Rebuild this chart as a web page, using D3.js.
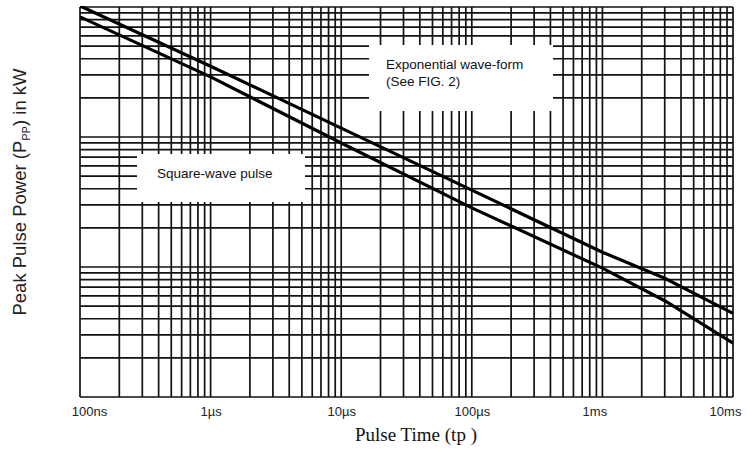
<!DOCTYPE html>
<html><head><meta charset="utf-8">
<script src="https://cdn.jsdelivr.net/npm/d3@7"></script>
<style>html,body{margin:0;padding:0;background:#fff;}svg{display:block;}</style>
</head><body>
<svg id="c" width="748" height="464"></svg>
<script>
const xTickValues = [1e-7, 1e-6, 1e-5, 1e-4, 1e-3, 1e-2];
const xTickLabels = ["100ns", "1\u00b5s", "10\u00b5s", "100\u00b5s", "1ms", "10ms"];
const pulseTime = [1e-7, 1e-6, 1e-5, 1e-4, 1e-3, 3e-3, 1e-2];
const expPower = [102, 35, 11.7, 3.9, 1.3, 0.82, 0.44];
const squarePower = [84, 29, 9.0, 2.85, 0.98, 0.55, 0.26];
const yDomain = [0.1, 100];

const svg = d3.select("#c");
const L = 80, R = 733, T = 7, B = 397;
const x = d3.scaleLog().domain([1e-7, 1e-2]).range([L, R]);
const y = d3.scaleLog().domain(yDomain).range([B, T]);

svg.append("rect").attr("width", 748).attr("height", 464).attr("fill", "#fff");

const xGrid = [], yGrid = [];
for (let e = -7; e < -2; e++) for (let k = 1; k <= 9; k++) xGrid.push(k * Math.pow(10, e));
xGrid.push(1e-2);
for (let e = -1; e < 2; e++) for (let k = 1; k <= 9; k++) yGrid.push(k * Math.pow(10, e));
yGrid.push(100);

const g = svg.append("g");
g.selectAll(".v").data(xGrid).enter().append("line")
  .attr("x1", d => x(d)).attr("x2", d => x(d)).attr("y1", T).attr("y2", B)
  .attr("stroke", "#111").attr("stroke-width", 1.7);
g.selectAll(".h").data(yGrid).enter().append("line")
  .attr("y1", d => y(d)).attr("y2", d => y(d)).attr("x1", L).attr("x2", R)
  .attr("stroke", "#111").attr("stroke-width", 1.7);

svg.append("clipPath").attr("id", "clip").append("rect")
  .attr("x", L).attr("y", T - 1).attr("width", R - L + 2).attr("height", B - T + 1);
const line = d3.line().x(d => x(d[0])).y(d => y(d[1]));
[expPower, squarePower].forEach(s => {
  svg.append("path").datum(pulseTime.map((t, i) => [t, s[i]]))
    .attr("d", line).attr("fill", "none").attr("stroke", "#000")
    .attr("stroke-width", 3.2).attr("clip-path", "url(#clip)");
});

svg.append("rect").attr("x", 369).attr("y", 45).attr("width", 184).attr("height", 66).attr("fill", "#fff");
svg.append("text").attr("x", 386).attr("y", 69).attr("font-family", "Liberation Sans, Arial, sans-serif")
  .attr("font-size", 13.5).attr("fill", "#111").text("Exponential wave-form");
svg.append("text").attr("x", 386).attr("y", 86).attr("font-family", "Liberation Sans, Arial, sans-serif")
  .attr("font-size", 13.5).attr("fill", "#111").text("(See FIG. 2)");
svg.append("rect").attr("x", 137).attr("y", 154).attr("width", 168).attr("height", 48).attr("fill", "#fff");
svg.append("text").attr("x", 157).attr("y", 178).attr("font-family", "Liberation Sans, Arial, sans-serif")
  .attr("font-size", 13.5).attr("fill", "#111").text("Square-wave pulse");

const xAxis = d3.axisBottom(x).tickValues(xTickValues).tickFormat((d, i) => xTickLabels[i]).tickSize(0).tickPadding(10);
const ax = svg.append("g").attr("transform", `translate(0,${B})`).call(xAxis);
ax.select(".domain").remove();
ax.selectAll("text").attr("font-family", "Liberation Sans, Arial, sans-serif").attr("font-size", 13).attr("fill", "#222")
  .attr("dx", (d, i) => i === 0 ? 9 : (i === 5 ? -8 : (i === 4 ? -8 : 0)));

svg.append("text").attr("x", 416).attr("y", 441).attr("text-anchor", "middle")
  .attr("font-family", "Liberation Serif, Times New Roman, serif").attr("font-size", 19).attr("fill", "#111")
  .text("Pulse Time (tp )");

const yl = svg.append("text").attr("transform", "translate(26,192) rotate(-90)").attr("text-anchor", "middle")
  .attr("font-family", "Liberation Sans, Arial, sans-serif").attr("font-size", 18.5).attr("fill", "#222");
yl.append("tspan").text("Peak Pulse Power (P");
yl.append("tspan").attr("font-size", 11).attr("dy", 4).text("PP");
yl.append("tspan").attr("dy", -4).text(") in kW");
</script>
</body></html>
